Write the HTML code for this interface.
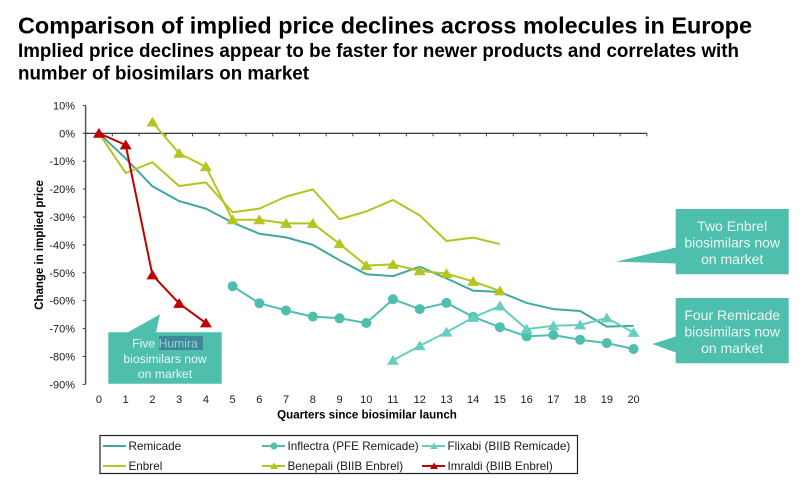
<!DOCTYPE html>
<html lang="en">
<head>
<meta charset="utf-8">
<title>Comparison of implied price declines</title>
<style>
html,body{margin:0;padding:0;background:#fff;width:812px;height:502px;overflow:hidden}
svg{display:block;font-family:"Liberation Sans",Arial,sans-serif}
</style>
</head>
<body>
<svg id="chart" xmlns="http://www.w3.org/2000/svg" width="812" height="502" viewBox="0 0 812 502">
  <rect width="812" height="502" fill="#fff"/>
  <text x="18" y="33.5" font-size="23" font-weight="700" fill="#000" textLength="734" lengthAdjust="spacingAndGlyphs">Comparison of implied price declines across molecules in Europe</text>
  <text x="18" y="57" font-size="19" font-weight="700" fill="#000" textLength="721" lengthAdjust="spacingAndGlyphs">Implied price declines appear to be faster for newer products and correlates with</text>
  <text x="18" y="79.5" font-size="19" font-weight="700" fill="#000" textLength="291" lengthAdjust="spacingAndGlyphs">number of biosimilars on market</text>

  <g id="axes"></g>
  <text transform="translate(43 245) rotate(-90)" text-anchor="middle" font-size="11.5" font-weight="700" fill="#000">Change in implied price</text>
  <text x="367" y="418.5" text-anchor="middle" font-size="11.6" font-weight="700" fill="#000">Quarters since biosimilar launch</text>
  <g id="series"></g>

  <g>
    <path d="M108.3 332.3H128L160 314.3L156 332.3H221.7V383.7H108.3Z" fill="#4fbfad"/>
    <rect x="159" y="336" width="44" height="14" fill="#3b8a96"/>
    <text font-size="12.2" fill="#e9f7f4" text-anchor="middle"><tspan x="165" y="347.5">Five <tspan fill="#9fd0dc">Humira</tspan></tspan><tspan x="165" y="363">biosimilars now</tspan><tspan x="165" y="378">on market</tspan></text>
  </g>
  <g>
    <path d="M675.7 209H788.7V274.3H675.7V263.5L615.7 261.7L675.7 247.5Z" fill="#4fbfad"/>
    <text font-size="14" fill="#e9f7f4" text-anchor="middle"><tspan x="732.2" y="231">Two Enbrel</tspan><tspan x="732.2" y="247.5">biosimilars now</tspan><tspan x="732.2" y="264">on market</tspan></text>
  </g>
  <g>
    <path d="M675.7 298H788.7V363.3H675.7V352.5L652.3 344L675.7 336.5Z" fill="#4fbfad"/>
    <text font-size="14" fill="#e9f7f4" text-anchor="middle"><tspan x="732.2" y="320">Four Remicade</tspan><tspan x="732.2" y="336.5">biosimilars now</tspan><tspan x="732.2" y="353">on market</tspan></text>
  </g>

  <g id="legend">
    <rect x="100" y="435.5" width="477.5" height="38" fill="#fff" stroke="#222" stroke-width="1.2"/>
  </g>
</svg>
<script>
const quarters = [0,1,2,3,4,5,6,7,8,9,10,11,12,13,14,15,16,17,18,19,20];
const yTicks = [10,0,-10,-20,-30,-40,-50,-60,-70,-80,-90];
const remicade = [0,-9,-19,-24.3,-27,-32,-36,-37.3,-40,-45.5,-50.5,-51.2,-47.8,-52,-56.4,-56.9,-60.8,-63,-63.7,-69.3,-69];
const enbrel = [0,-14.2,-10.4,-18.9,-17.6,-28.3,-27,-22.7,-20.1,-30.8,-28,-23.9,-29.4,-38.6,-37.4,-39.7,null,null,null,null,null];
const inflectra = [null,null,null,null,null,-54.8,-60.9,-63.5,-65.7,-66.3,-68,-59.5,-63,-60.8,-65.8,-69.5,-72.8,-72.3,-74,-75.2,-77.3];
const flixabi = [null,null,null,null,null,null,null,null,null,null,null,-81.4,-76.2,-71.3,-66,-61.9,-70.2,-69,-68.7,-66.2,-71.4];
const benepali = [null,null,4,-7.2,-12,-31,-31,-32.3,-32.3,-39.6,-47.4,-47,-49.3,-50.3,-53.1,-56.5,null,null,null,null,null];
const imraldi = [0,-4.2,-50.8,-61,-68,null,null,null,null,null,null,null,null,null,null,null,null,null,null,null,null];

const NS = 'http://www.w3.org/2000/svg';
const plotLeft = 85.6, stepX = 26.73, zeroY = 133.3, pxPerPct = 2.79;
function xScale(i){ return plotLeft + stepX * (i + 0.5); }
function yScale(v){ return zeroY - v * pxPerPct; }
function make(tag, attrs, parent, text){
  const el = document.createElementNS(NS, tag);
  for (const k in attrs) el.setAttribute(k, attrs[k]);
  if (text !== undefined) el.textContent = text;
  parent.appendChild(el);
  return el;
}

const axes = document.getElementById('axes');
const xEnd = plotLeft + stepX * quarters.length;
const yAxisLine = make('line', {x1:plotLeft, x2:plotLeft, y1:yScale(10), y2:yScale(-90), stroke:'#555', 'stroke-width':1.5}, axes);


const xAxisLine = make('line', {x1:plotLeft, x2:xEnd, y1:zeroY, y2:zeroY, stroke:'#222', 'stroke-width':1.2}, axes);


yTicks.forEach(function(t){
  const mark = make('line', {x1:plotLeft-3, x2:plotLeft, y1:yScale(t), y2:yScale(t), stroke:'#444', 'stroke-width':1}, axes);
  
  
  const label = make('text', {x:75, y:yScale(t)+4, 'text-anchor':'end', 'font-size':11, fill:'#1a1a1a'}, axes, t + '%');
  
  
});
quarters.forEach(function(q, i){
  const mark = make('line', {x1:plotLeft+stepX*(i+1), x2:plotLeft+stepX*(i+1), y1:zeroY, y2:zeroY+3, stroke:'#444', 'stroke-width':1}, axes);
  
  
  const label = make('text', {x:xScale(i), y:403, 'text-anchor':'middle', 'font-size':11, fill:'#1a1a1a'}, axes, String(q));
  
  
});

function drawMarker(parent, type, cx, cy, color){
  if (type === 'circle') {
    return make('circle', {cx:cx, cy:cy, r:5, fill:color}, parent);
  }
  if (type === 'triangle') {
    return make('polygon', {points:(cx-6)+','+(cy+4.4)+' '+cx+','+(cy-5.4)+' '+(cx+6)+','+(cy+4.4), fill:color}, parent);
  }
  return null;
}

const seriesRoot = document.getElementById('series');
function drawSeries(values, color, marker, name, width){
  const g = make('g', {}, seriesRoot);
  
  
  const pts = [];
  values.forEach(function(v, i){ if (v !== null) pts.push(xScale(i) + ',' + yScale(v)); });
  const line = make('polyline', {points:pts.join(' '), fill:'none', stroke:color, 'stroke-width':width, 'stroke-linejoin':'round'}, g);
  
  
  values.forEach(function(v, i){
    if (v === null) return;
    const m = drawMarker(g, marker, xScale(i), yScale(v), color);
    if (m) {
      
      
    }
  });
}
drawSeries(remicade, '#3fa9a0', 'none', 'series-remicade', 2);
drawSeries(enbrel, '#b5c41f', 'none', 'series-enbrel', 2);
drawSeries(inflectra, '#4fbfad', 'circle', 'series-inflectra', 2);
drawSeries(flixabi, '#66cdbf', 'triangle', 'series-flixabi', 2);
drawSeries(benepali, '#b5c41f', 'triangle', 'series-benepali', 2);
drawSeries(imraldi, '#c00000', 'triangle', 'series-imraldi', 2);

const legendLabels = ['Remicade','Inflectra (PFE Remicade)','Flixabi (BIIB Remicade)','Enbrel','Benepali (BIIB Enbrel)','Imraldi (BIIB Enbrel)'];
const legendColors = ['#3fa9a0','#4fbfad','#66cdbf','#b5c41f','#b5c41f','#c00000'];
const legendMarkers = ['none','circle','triangle','none','triangle','triangle'];
const legendRoot = document.getElementById('legend');
const legendCols = [103, 262, 422];
const legendRows = [446, 466];
legendLabels.forEach(function(label, i){
  const lx = legendCols[i % 3], ly = legendRows[Math.floor(i / 3)];
  const g = make('g', {}, legendRoot);
  
  
  make('line', {x1:lx, x2:lx+23, y1:ly, y2:ly, stroke:legendColors[i], 'stroke-width':2}, g);
  if (legendMarkers[i] === 'circle') make('circle', {cx:lx+12, cy:ly, r:3.5, fill:legendColors[i]}, g);
  if (legendMarkers[i] === 'triangle') make('polygon', {points:(lx+8)+','+(ly+3)+' '+(lx+12)+','+(ly-3.5)+' '+(lx+16)+','+(ly+3), fill:legendColors[i]}, g);
  make('text', {x:lx+25.5, y:ly+4, 'font-size':11.7, fill:'#1a1a1a'}, g, label);
});
</script>
</body>
</html>
